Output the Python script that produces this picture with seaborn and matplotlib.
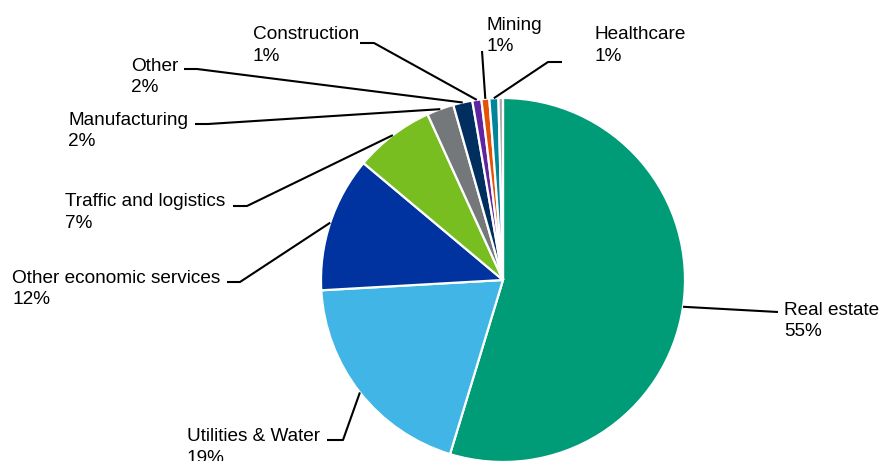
import numpy as np
import matplotlib
matplotlib.use("Agg")
import matplotlib.pyplot as plt
import seaborn as sns

# ---- data ----
categories = ["Real estate", "Utilities & Water", "Other economic services",
              "Traffic and logistics", "Manufacturing", "Other", "Construction",
              "Mining", "Healthcare", ""]
shares = [54.7, 19.4, 12.0, 7.1, 2.4, 1.7, 0.8, 0.7, 0.8, 0.4]
pct_labels = ["55%", "19%", "12%", "7%", "2%", "2%", "1%", "1%", "1%", ""]
colors = ["#009B77", "#41B6E6", "#0032A0", "#78BE21", "#75787B",
          "#002F5F", "#5F249F", "#E35205", "#00859B", "#A7A8AA"]

# ---- layout (pixel coordinates, y measured from top) ----
W, H = 880, 461
CX, CY, R = 503, 280, 182
# label text left x, name line baseline y, leader path points (text side first)
label_layout = {
    "Real estate":             dict(x=784, y=315, path=[(778, 312)]),
    "Utilities & Water":       dict(x=187, y=441, path=[(327, 440), (343, 440)]),
    "Other economic services": dict(x=12,  y=283, path=[(227, 282), (240, 282)]),
    "Traffic and logistics":   dict(x=65,  y=206, path=[(233, 206), (247, 206)]),
    "Manufacturing":           dict(x=68,  y=125, path=[(195, 124), (208, 124)]),
    "Other":                   dict(x=131, y=71,  path=[(184, 69), (197, 69)]),
    "Construction":            dict(x=253, y=39.5, path=[(360, 43), (374, 43)]),
    "Mining":                  dict(x=487, y=30,  path=[(482, 51)]),
    "Healthcare":              dict(x=595, y=39.5, path=[(562, 62), (548, 62)]),
}
LINE_GAP = 21.5

sns.set_theme(style="white")
plt.rcParams["font.family"] = ["Liberation Sans", "DejaVu Sans"]

fig = plt.figure(figsize=(W / 100, H / 100), dpi=100)
ax = fig.add_axes([0, 0, 1, 1])

wedges, _ = ax.pie(shares, colors=colors, startangle=90, counterclock=False,
                   center=(CX, H - CY), radius=R, frame=False,
                   wedgeprops=dict(edgecolor="white", linewidth=1.6))
ax.set_xlim(0, W)
ax.set_ylim(0, H)
ax.set_aspect("equal")
ax.axis("off")

fs = 13.7
for w, name, pct in zip(wedges, categories, pct_labels):
    if not name:
        continue
    lay = label_layout[name]
    mid = np.deg2rad((w.theta1 + w.theta2) / 2)
    ex = CX + R * np.cos(mid)
    ey = (H - CY) + R * np.sin(mid)
    pts = [(px, H - py) for px, py in lay["path"]] + [(ex, ey)]
    xs, ys = zip(*pts)
    ax.plot(xs, ys, color="black", lw=1.5, solid_capstyle="butt", zorder=3)
    ax.text(lay["x"], H - lay["y"], name, fontsize=fs, color="black",
            ha="left", va="baseline")
    ax.text(lay["x"], H - lay["y"] - LINE_GAP, pct, fontsize=fs, color="black",
            ha="left", va="baseline")

fig.savefig("out.png", dpi=100, facecolor="white")
